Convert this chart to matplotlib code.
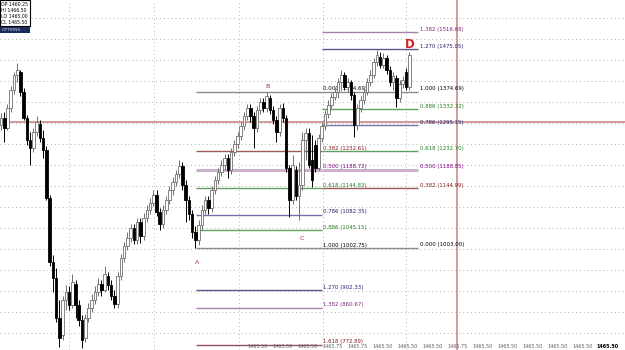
import numpy as np
import matplotlib.pyplot as plt
from matplotlib.patches import Rectangle

# candles (price)
opens = [1295, 1312, 1288, 1336, 1379, 1414, 1422, 1374, 1312, 1260,
         1241, 1279, 1298, 1265, 1236, 1122, 969, 931, 836, 796,
         879, 898, 867, 917, 867, 831, 789, 836, 860, 879,
         898, 917, 903, 936, 915, 889, 870, 936, 979, 1008,
         1027, 1050, 1022, 1065, 1031, 1074, 1093, 1110, 1129, 1088,
         1060, 1093, 1117, 1141, 1160, 1179, 1198, 1153, 1117, 1084,
         1041, 1022, 1058, 1093, 1117, 1098, 1141, 1165, 1184, 1200,
         1217, 1188, 1231, 1250, 1269, 1293, 1317, 1336, 1317, 1288,
         1331, 1350, 1336, 1360, 1331, 1307, 1279, 1336, 1312, 1193,
         1117, 1188, 1126, 1153, 1260, 1276, 1212, 1248, 1193, 1264,
         1293, 1322, 1343, 1362, 1374, 1398, 1414, 1386, 1398, 1367,
         1295, 1336, 1355, 1374, 1398, 1414, 1445, 1457, 1438, 1455,
         1426, 1398, 1407, 1360, 1393, 1422, 1386]
highs = [1324, 1326, 1345, 1388, 1422, 1443, 1426, 1383, 1319, 1279,
         1288, 1317, 1307, 1284, 1245, 1129, 986, 955, 879, 889,
         915, 912, 941, 927, 879, 843, 846, 872, 893, 912,
         931, 927, 960, 946, 927, 903, 946, 988, 1017, 1041,
         1060, 1060, 1074, 1074, 1086, 1105, 1122, 1141, 1141, 1098,
         1105, 1127, 1150, 1172, 1188, 1212, 1207, 1165, 1127, 1093,
         1055, 1069, 1105, 1127, 1127, 1150, 1174, 1193, 1212, 1226,
         1226, 1241, 1260, 1279, 1303, 1326, 1345, 1345, 1326, 1341,
         1360, 1360, 1374.7, 1367, 1341, 1317, 1345, 1348, 1319, 1200,
         1224, 1198, 1207, 1279, 1288, 1288, 1272, 1260, 1274, 1303,
         1331, 1355, 1372, 1383, 1407, 1426, 1422, 1407, 1402, 1374,
         1345, 1364, 1383, 1407, 1426, 1455, 1474, 1469, 1467, 1462,
         1436, 1422, 1414, 1402, 1412, 1431, 1469]
lows = [1284, 1255, 1284, 1326, 1369, 1398, 1364, 1307, 1248, 1200,
        1231, 1269, 1255, 1217, 1117, 960, 898, 827, 767, 784,
        855, 855, 860, 836, 817, 765, 779, 827, 851, 870,
        889, 889, 898, 903, 879, 860, 860, 927, 969, 998,
        1017, 1012, 1012, 1015, 1022, 1065, 1084, 1103, 1079, 1046,
        1050, 1084, 1107, 1129, 1150, 1169, 1141, 1065, 1069, 1027,
        1002.75, 1010, 1046, 1084, 1084, 1088, 1131, 1155, 1174, 1188,
        1169, 1179, 1222, 1241, 1260, 1284, 1307, 1303, 1241, 1279,
        1322, 1326, 1326, 1322, 1298, 1255, 1269, 1303, 1184, 1076,
        1107, 1117, 1069, 1141, 1212, 1193, 1148, 1184, 1188, 1255,
        1284, 1312, 1336, 1355, 1360, 1388, 1379, 1374, 1355, 1267,
        1284, 1326, 1345, 1367, 1388, 1407, 1436, 1431, 1431, 1417,
        1388, 1379, 1338, 1350, 1383, 1379, 1379]
closes = [1312, 1288, 1336, 1379, 1414, 1426, 1374, 1312, 1260, 1241,
          1279, 1303, 1265, 1236, 1122, 969, 931, 836, 789, 879,
          898, 867, 922, 867, 831, 784, 836, 860, 879, 898,
          917, 903, 941, 915, 889, 870, 936, 979, 1008, 1027,
          1050, 1022, 1065, 1031, 1074, 1093, 1110, 1129, 1088, 1060,
          1093, 1117, 1141, 1160, 1179, 1198, 1153, 1117, 1084, 1041,
          1022, 1058, 1093, 1117, 1098, 1141, 1165, 1184, 1200, 1217,
          1188, 1231, 1250, 1269, 1293, 1317, 1336, 1317, 1288, 1331,
          1350, 1336, 1364, 1331, 1307, 1279, 1336, 1312, 1193, 1117,
          1200, 1126, 1153, 1260, 1276, 1200, 1165, 1193, 1264, 1293,
          1322, 1343, 1362, 1374, 1398, 1414, 1386, 1398, 1367, 1295,
          1336, 1355, 1374, 1398, 1414, 1445, 1462, 1438, 1455, 1426,
          1398, 1412, 1360, 1393, 1402, 1386, 1462]

# fibonacci levels
left_ratios = ['0.000', '0.382', '0.500', '0.618', '0.786', '0.886', '1.000', '1.270', '1.382', '1.618']
left_prices = [1374.69, 1232.61, 1188.72, 1144.83, 1082.35, 1045.15, 1002.75, 902.33, 860.67, 772.89]
right_ratios = ['1.382', '1.270', '1.000', '0.886', '0.786', '0.618', '0.500', '0.382', '0.000']
right_prices = [1516.68, 1475.05, 1374.69, 1332.32, 1295.15, 1232.70, 1188.85, 1144.99, 1003.00]

info_lines = ['OP 1460.25', 'HI 1466.50', 'LO 1465.00', 'CL 1465.50']
time_labels = ['1465.50', '1465.50', '1465.50', '1465.75', '1465.75', '1465.50', '1465.50',
               '1465.50', '1465.75', '1465.50', '1465.50', '1465.50', '1465.50', '1465.50', '1465.50']

styles = {
    '0.000': ('#8c8c8c', 'black', 1.0),
    '1.000': ('#8c8c8c', 'black', 1.0),
    '0.382': ('#9c5a5a', '#8b1a1a', 1.0),
    '0.500': ('#cdb0cd', '#800080', 2.2),
    '0.618': ('#5f9f5f', '#1f7f1f', 1.0),
    '0.786': ('#7474aa', '#22226e', 1.0),
    '0.886': ('#5f9f5f', '#1f7f1f', 1.0),
    '1.270': ('#5a5a8a', '#22226e', 1.0),
    '1.382': ('#a484ac', '#7a2a7a', 1.0),
    '1.618': ('#905060', '#8b1a1a', 1.0),
}

FONT = 'DejaVu Sans'

fig = plt.figure(figsize=(6.25, 3.5), dpi=100)
ax = fig.add_axes([0, 0, 1, 1])
ax.set_xlim(-0.31, 192.59)
ax.set_ylim(760.1, 1592.75)
ax.axis('off')

# grid
for p in range(800, 1600, 50):
    ax.axhline(p, color='#b4b4b4', lw=0.7, ls=(0, (1, 3)), zorder=0)
for gx in [21, 47.2, 73.5, 99.4, 125]:
    ax.axvline(gx, color='#b4b4b4', lw=0.7, ls=(0, (1, 3)), zorder=0)

# red crosshair lines
ax.axhline(1303, color='#c98080', lw=1.1, zorder=1)
ax.axvline(140.7, color='#c98080', lw=1.1, zorder=1)

# fib lines + labels
for r, p in zip(left_ratios, left_prices):
    lc, tc, lw = styles[r]
    ax.hlines(p, 60.2, 99.1, color=lc, lw=lw, zorder=2)
    ax.text(99.4, p + 1, '{} ({:.2f})'.format(r, p), color=tc, fontsize=3.9,
            family=FONT, va='bottom', ha='left', zorder=2)
for r, p in zip(right_ratios, right_prices):
    lc, tc, lw = styles[r]
    ax.hlines(p, 99.1, 128.7, color=lc, lw=lw, zorder=2)
    ax.text(129.3, p + 1, '{} ({:.2f})'.format(r, p), color=tc, fontsize=3.9,
            family=FONT, va='bottom', ha='left', zorder=2)

# candles
o = np.array(opens, float)
h = np.array(highs, float)
l = np.array(lows, float)
c = np.array(closes, float)
idx = np.arange(len(c))
up = c >= o
ax.vlines(idx[up], l[up], h[up], color='#707070', lw=0.7, zorder=3)
ax.vlines(idx[~up], l[~up], h[~up], color='black', lw=0.7, zorder=3)
ax.bar(idx[up], c[up] - o[up], bottom=o[up], width=0.8, color='white',
       edgecolor='#707070', lw=0.6, zorder=4)
ax.bar(idx[~up], o[~up] - c[~up], bottom=c[~up], width=0.8, color='black',
       edgecolor='black', lw=0.6, zorder=4)

# pattern points
for lab, xi, yp in [('A', 60.5, 969), ('B', 82.1, 1386), ('C', 92.9, 1026)]:
    ax.text(xi, yp, lab, color='#b03030', fontsize=4.5, family=FONT, ha='center', va='center')
ax.text(126.3, 1488, 'D', color='#d42020', fontsize=8.5, fontweight='bold', family=FONT,
        ha='center', va='center')

# bottom time labels
for k, t in enumerate(time_labels):
    last = k == len(time_labels) - 1
    ax.text((257 + 25 * k) / 3.24, 769.6, t, fontsize=3.5, family=FONT,
            color='black' if last else '#606060', fontweight='bold' if last else 'normal',
            ha='center', va='center')

# info box top-left
W, H = 625.0, 350.0
fig.add_artist(Rectangle((0, 1 - 26 / H), 30 / W, 26 / H, transform=fig.transFigure,
                         facecolor='white', edgecolor='black', lw=0.8, zorder=5))
for k, t in enumerate(info_lines):
    fig.text(1.5 / W, 1 - (4 + 6.1 * k) / H, t, fontsize=3.3, family=FONT,
             color='black', va='center', ha='left', zorder=6)
fig.add_artist(Rectangle((0, 1 - 33 / H), 30 / W, 6 / H, transform=fig.transFigure,
                         facecolor='#1c2a5c', edgecolor='none', zorder=5))
fig.text(2 / W, 1 - 30 / H, 'OPTIONS', fontsize=3.2, family=FONT, color='#d0d8f0',
         va='center', ha='left', zorder=6)

fig.savefig('out.png', dpi=100)
